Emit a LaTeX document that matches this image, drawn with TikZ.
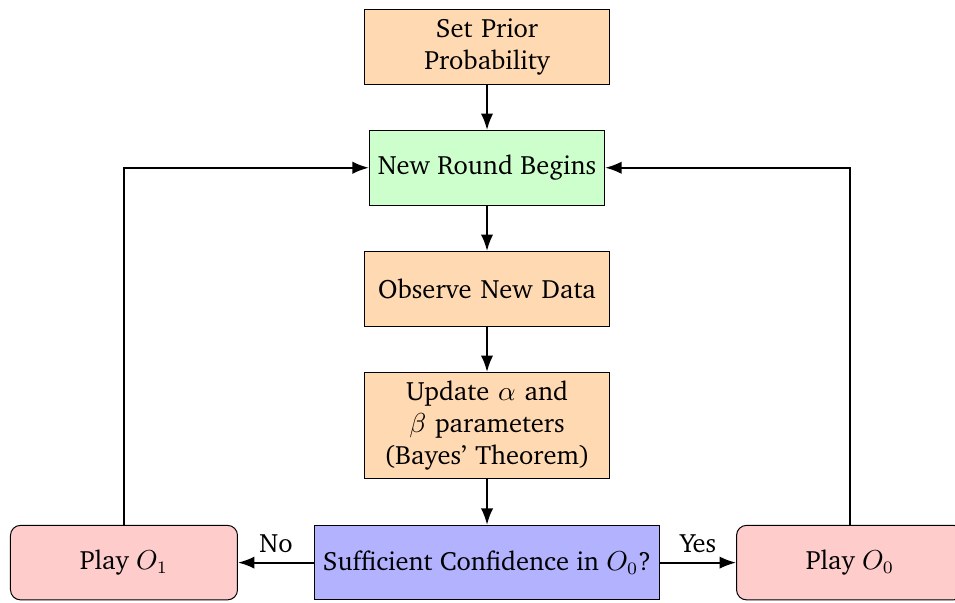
\documentclass[tikz,border=0pt]{standalone}
\usepackage[T1]{fontenc}
\usepackage{charter}
\usetikzlibrary{arrows.meta,positioning,calc}

\tikzset{
  process/.style={rectangle, draw, fill=orange!30, text width=3.2cm, align=center, minimum height=29.8pt},
  roundstart/.style={rectangle, draw, fill=green!20, align=center, minimum height=29.8pt},
  decision/.style={rectangle, draw, fill=blue!30, align=center, minimum height=29.8pt},
  outcome/.style={rectangle, rounded corners, draw, fill=red!20, minimum width=90.8pt, minimum height=29.8pt},
  arrow/.style={thick, -{Latex}},
}

\begin{document}
\begin{tikzpicture}[node distance=18.2pt and 30.4pt, font=\fontsize{10.6}{12.9}\selectfont]
  \node[process] (prior) {Set Prior\\Probability};
  \node[roundstart, below=of prior] (round) {New Round Begins};
  \node[process, below=of round] (observe) {Observe New Data};
  \node[process, below=of observe] (update) {Update $\alpha$ and\\$\beta$ parameters\\(Bayes' Theorem)};
  \node[decision, below=of update] (conf) {Sufficient Confidence in $O_0$?};
  \node[outcome, left=of conf] (play1) {Play $O_1$};
  \node[outcome, right=of conf] (play0) {Play $O_0$};

  % main flow
  \draw[arrow] (prior) -- (round);
  \draw[arrow] (round) -- (observe);
  \draw[arrow] (observe) -- (update);
  \draw[arrow] (update) -- (conf);
  \draw[arrow] (conf) -- node[above] {No} (play1);
  \draw[arrow] (conf) -- node[above] {Yes} (play0);

  % back to the next round
  \draw[arrow] (play1) |- (round);
  \draw[arrow] (play0) |- (round);

  \pgfresetboundingbox
  \useasboundingbox ($(play1.west |- prior.north)+(-4pt,3.6pt)$) rectangle ++(382pt,-240.8pt);
\end{tikzpicture}
\end{document}
